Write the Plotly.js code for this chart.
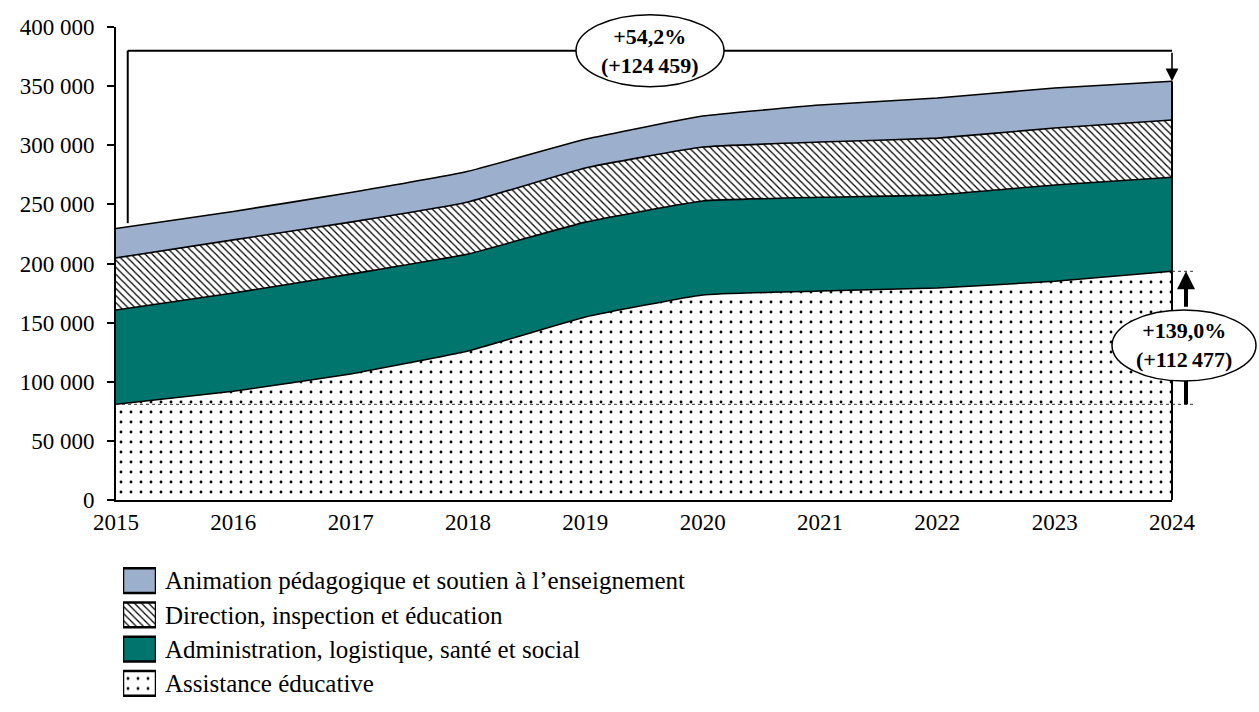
<!DOCTYPE html>
<html>
<head>
<meta charset="utf-8">
<script src="https://cdn.plot.ly/plotly-3.0.1.min.js"></script>
<style>html,body{margin:0;padding:0;background:#fff;}#chart{width:1259px;height:712px;}</style>
</head>
<body>
<div id="chart"></div>
<script>
const years = [2015, 2016, 2017, 2018, 2019, 2020, 2021, 2022, 2023, 2024];
const assistance = [80919, 92000, 106600, 126000, 154800, 173400, 176700, 179300, 185000, 193396];
const administration = [79800, 83000, 84400, 82000, 80200, 79500, 79300, 78700, 81400, 79600];
const direction = [44000, 45000, 44000, 44000, 45800, 45600, 46700, 48000, 48200, 48400];
const animation = [24910, 24000, 25000, 26000, 24200, 26200, 31300, 34000, 33800, 32692];
const seriesNames = [
  "Assistance éducative",
  "Administration, logistique, santé et social",
  "Direction, inspection et éducation",
  "Animation pédagogique et soutien à l’enseignement"
];
const yTickVals = [0, 50000, 100000, 150000, 200000, 250000, 300000, 350000, 400000];

const FONT = "Liberation Serif";
const YMAX = 400000;
const n = years.length - 1;
const totals = years.map((_, i) => assistance[i] + administration[i] + direction[i] + animation[i]);
function fr(v) { return String(Math.round(v)).replace(/\B(?=(\d{3})+(?!\d))/g, "\u202F"); }
function pct(a, b) { return ((b / a - 1) * 100).toFixed(1).replace(".", ","); }

// series styles (index matches seriesNames)
const fillColors = ["#ffffff", "#00756d", "#ffffff", "#9cafcc"];
const patShape = [".", "", "\\", ""];
const patSize = [10, 8, 5, 8];
const patSolid = [0.065, 0.3, 0.25, 0.3];

const seriesData = [assistance, administration, direction, animation];
const lineStyle = { color: "#000", width: 1.6, shape: "spline", smoothing: 0.35 };
const traces = seriesData.map((vals, i) => {
  const t = {
    x: years, y: vals, name: seriesNames[i], type: "scatter", mode: "lines", stackgroup: "one",
    line: lineStyle, fillcolor: fillColors[i], hoverinfo: "skip", showlegend: false,
    xaxis: "x", yaxis: "y"
  };
  if (patShape[i]) t.fillpattern = { shape: patShape[i], size: patSize[i], solidity: patSolid[i], fgcolor: "#000", bgcolor: "#fff" };
  return t;
});

// legend drawn as swatch bars with category labels
seriesNames.forEach((name, i) => {
  const marker = { color: fillColors[i], line: { color: "#000", width: 2.5 } };
  if (patShape[i]) marker.pattern = { shape: patShape[i], size: patSize[i], solidity: patSolid[i], fgcolor: "#000", bgcolor: "#fff" };
  traces.push({
    type: "bar", orientation: "h", xaxis: "x2", yaxis: "y2",
    y: [name], x: [1], width: 0.72, marker: marker,
    hoverinfo: "skip", showlegend: false
  });
});

// geometry helpers: main axes span x 116..1172 px, y 27..500 px
const PLOT_H = 712 - 27 - 10;
const xPix = px => (px - 116) / 1056;
const yPix = py => (500 - py) / 473;
const yp = v => v / YMAX;
const yDom0 = (712 - 10 - 500) / PLOT_H;

const shapes = [
  { type: "line", xref: "x domain", yref: "y domain", x0: 1, x1: 1, y0: 0, y1: yp(totals[n]), line: { color: "#000", width: 2 } },
  { type: "line", xref: "x domain", yref: "y domain", x0: 0, x1: xPix(1195), y0: yp(assistance[0]), y1: yp(assistance[0]), line: { color: "#333", width: 1, dash: "dot" } },
  { type: "line", xref: "x domain", yref: "y domain", x0: 1, x1: xPix(1195), y0: yp(assistance[n]), y1: yp(assistance[n]), line: { color: "#333", width: 1, dash: "dot" } },
  { type: "line", xref: "x", yref: "y", x0: years[0] + 0.1, x1: years[0] + 0.1, y0: totals[0] + 4500, y1: 380000, line: { color: "#000", width: 2 } },
  { type: "line", xref: "x", yref: "y", x0: years[0] + 0.1, x1: years[n], y0: 380000, y1: 380000, line: { color: "#000", width: 2 } },
  { type: "line", xref: "x domain", yref: "y domain", x0: xPix(1186), x1: xPix(1186), y0: yp(assistance[0]), y1: yPix(381), line: { color: "#000", width: 4 } },
  { type: "circle", xref: "x domain", yref: "y domain", xsizemode: "pixel", ysizemode: "pixel",
    xanchor: xPix(650), yanchor: yp(380000), x0: -74, x1: 74, y0: -36, y1: 36,
    fillcolor: "#fff", line: { color: "#000", width: 1.5 } },
  { type: "circle", xref: "x domain", yref: "y domain", xsizemode: "pixel", ysizemode: "pixel",
    xanchor: xPix(1184), yanchor: yPix(345.5), x0: -72, x1: 72, y0: -35.5, y1: 35.5,
    fillcolor: "#fff", line: { color: "#000", width: 1.5 } }
];

const annotations = [
  { xref: "x domain", yref: "y domain", x: xPix(650), y: yp(380000), xanchor: "center", yanchor: "middle", showarrow: false,
    text: "<b>+" + pct(totals[0], totals[n]) + "%<br>(+" + fr(totals[n] - totals[0]) + ")</b>",
    font: { family: FONT, size: 22, color: "#000" }, align: "center" },
  { xref: "x domain", yref: "y domain", x: xPix(1184), y: yPix(345.5), xanchor: "center", yanchor: "middle", showarrow: false,
    text: "<b>+" + pct(assistance[0], assistance[n]) + "%<br>(+" + fr(assistance[n] - assistance[0]) + ")</b>",
    font: { family: FONT, size: 22, color: "#000" }, align: "center" },
  { xref: "x", yref: "y", x: years[n], y: totals[n], ax: 0, ay: -30, showarrow: true,
    arrowhead: 2, arrowsize: 1.6, arrowwidth: 1.6, arrowcolor: "#000", text: "" },
  { xref: "x domain", yref: "y", x: xPix(1186), y: assistance[n], ax: 0, ay: 37, showarrow: true,
    arrowhead: 2, arrowsize: 0.9, arrowwidth: 4, arrowcolor: "#000", text: "" }
];

const layout = {
  width: 1259, height: 712,
  margin: { l: 116, r: 87, t: 27, b: 10, autoexpand: false },
  paper_bgcolor: "#fff", plot_bgcolor: "#fff",
  separators: ", ",
  font: { family: FONT, size: 22, color: "#000" },
  showlegend: false,
  barmode: "overlay",
  xaxis: {
    domain: [0, 1], anchor: "y",
    range: [years[0], years[n]], tickvals: years, ticktext: years.map(String),
    showline: true, linecolor: "#000", linewidth: 2, ticks: "", showgrid: false, zeroline: false,
    tickfont: { family: FONT, size: 23 }, fixedrange: true
  },
  yaxis: {
    domain: [yDom0, 1], anchor: "x",
    range: [0, YMAX], tickvals: yTickVals, tickformat: ",d",
    showline: true, linecolor: "#000", linewidth: 2, ticks: "outside", ticklen: 7, tickwidth: 2, tickcolor: "#000",
    showgrid: false, zeroline: false, tickfont: { family: FONT, size: 23 }, ticklabelstandoff: 8, fixedrange: true
  },
  xaxis2: {
    domain: [xPix(123), xPix(156)], anchor: "y2", range: [0, 1],
    visible: false, fixedrange: true
  },
  yaxis2: {
    domain: [(712 - 10 - 700.5) / PLOT_H, (712 - 10 - 563.5) / PLOT_H], anchor: "x2", side: "right",
    type: "category", categoryorder: "array", categoryarray: seriesNames, range: [-0.5, 3.5],
    showline: false, showgrid: false, zeroline: false, ticks: "", ticklabelstandoff: 8,
    tickfont: { family: FONT, size: 25, color: "#000" }, fixedrange: true
  },
  shapes: shapes,
  annotations: annotations
};

Plotly.newPlot("chart", traces, layout, { displayModeBar: false, staticPlot: true });
</script>
</body>
</html>
